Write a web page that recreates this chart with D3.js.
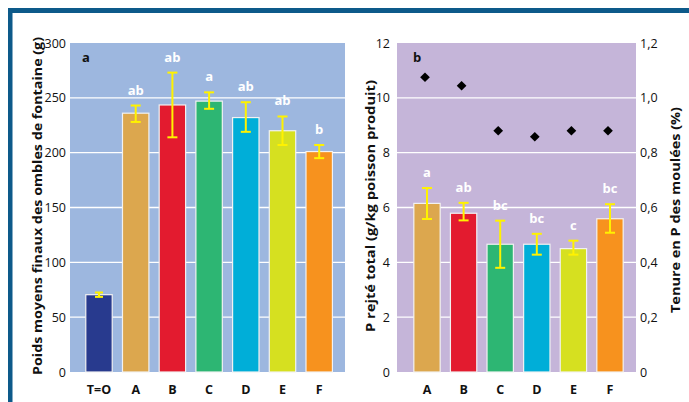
<!DOCTYPE html>
<html><head><meta charset="utf-8">
<script src="https://cdn.jsdelivr.net/npm/d3@7"></script>
<style>body{margin:0;background:#fff}svg{display:block}text{font-family:"Open Sans","Liberation Sans",sans-serif}</style>
</head><body><svg id="c" width="689" height="402"></svg>
<script>
// ---- Data ----
const catsA = ["T=O","A","B","C","D","E","F"];
const weightA = [70.5, 236, 243.5, 247, 232, 220, 201];
const weightLo = [68.5, 228, 214, 240, 219, 207, 195];
const weightHi = [72.5, 243, 273, 255, 246, 233, 207];
const lettersA = ["", "ab", "ab", "a", "ab", "ab", "b"];
const ticksA = [0, 50, 100, 150, 200, 250, 300];

const catsB = ["A","B","C","D","E","F"];
const pRejet = [6.15, 5.79, 4.66, 4.66, 4.5, 5.59];
const pRejetLo = [5.58, 5.53, 3.8, 4.28, 4.28, 5.08];
const pRejetHi = [6.71, 6.17, 5.52, 5.04, 4.79, 6.12];
const lettersB = ["a", "ab", "bc", "bc", "c", "bc"];
const pFeed = [1.075, 1.044, 0.88, 0.858, 0.88, 0.88];
const ticksBL = [0, 2, 4, 6, 8, 10, 12];
const ticksBR = [0, 0.2, 0.4, 0.6, 0.8, 1.0, 1.2];

const colors = {"T=O":"#283a8e","A":"#dca74e","B":"#e31b2f","C":"#2db673","D":"#00aed8","E":"#d6e020","F":"#f7921e"};

const svg = d3.select("#c");
// frame
svg.append("rect").attr("x",8).attr("y",8).attr("width",681).attr("height",5).attr("fill","#0d5a8a");
svg.append("rect").attr("x",8).attr("y",8).attr("width",4.5).attr("height",394).attr("fill","#0d5a8a");

const plotTop = 43, plotBottom = 372;
const fmtComma = d => d3.format(".1f")(d).replace(".", ",");

function panel(opt){
  const g = svg.append("g");
  g.append("rect").attr("x",opt.x0).attr("y",plotTop).attr("width",opt.x1-opt.x0).attr("height",plotBottom-plotTop).attr("fill",opt.bg);
  const y = d3.scaleLinear().domain([0, opt.max]).range([plotBottom, plotTop]);
  const x = d3.scaleBand().domain(opt.cats).range([opt.c0 - opt.step/2, opt.c0 - opt.step/2 + opt.step*opt.cats.length]).paddingInner(0.28).paddingOuter(0.14);
  // grid
  g.selectAll("line.grid").data(opt.ticks.slice(1,-1)).join("line")
    .attr("x1",opt.x0).attr("x2",opt.x1).attr("y1",d=>y(d)).attr("y2",d=>y(d))
    .attr("stroke","#fff").attr("stroke-width",1.3);
  // left axis
  const ax = g.append("g").attr("transform",`translate(${opt.x0},0)`)
    .call(d3.axisLeft(y).tickValues(opt.ticks).tickSize(0).tickPadding(opt.pad).tickFormat(opt.fmt||d3.format("d")));
  ax.select(".domain").remove();
  ax.selectAll("text").attr("font-size",12.5).attr("fill","#111");
  // bars
  g.selectAll("rect.bar").data(opt.vals).join("rect")
    .attr("x",(d,i)=>x(opt.cats[i])).attr("width",x.bandwidth())
    .attr("y",d=>y(d)).attr("height",d=>plotBottom-y(d))
    .attr("fill",(d,i)=>colors[opt.cats[i]]).attr("stroke","#f2f2f2").attr("stroke-width",1.2);
  // error bars
  opt.vals.forEach((d,i)=>{
    const cx = x(opt.cats[i]) + x.bandwidth()/2;
    const cw = i===0 && opt.cats[0]==="T=O" ? 4 : 5;
    g.append("line").attr("x1",cx).attr("x2",cx).attr("y1",y(opt.lo[i])).attr("y2",y(opt.hi[i])).attr("stroke","#fff200").attr("stroke-width",2);
    [opt.lo[i],opt.hi[i]].forEach(v=>g.append("line").attr("x1",cx-cw).attr("x2",cx+cw).attr("y1",y(v)).attr("y2",y(v)).attr("stroke","#fff200").attr("stroke-width",2));
    if(opt.letters[i]) g.append("text").attr("x",cx).attr("y",y(opt.hi[i]) - 11)
      .attr("text-anchor","middle").attr("font-size",13).attr("font-weight","bold").attr("fill","#fff").text(opt.letters[i]);
  });
  // x labels
  opt.cats.forEach(c=>g.append("text").attr("x",x(c)+x.bandwidth()/2).attr("y",394).attr("text-anchor","middle")
    .attr("font-size",12.5).attr("font-weight","bold").attr("fill","#111").text(c));
  // panel letter
  g.append("text").attr("x",opt.labX).attr("y",62).attr("font-size",13).attr("font-weight","bold").attr("fill","#111").text(opt.label);
  return {g,x,y};
}

const pa = panel({x0:70,x1:345,bg:"#9db7df",cats:catsA,vals:weightA,lo:weightLo,hi:weightHi,letters:lettersA,
  max:300,ticks:ticksA,c0:99,step:36.7,pad:4,labX:82,label:"a"});
const pb = panel({x0:397,x1:636,bg:"#c5b5d9",cats:catsB,vals:pRejet,lo:pRejetLo,hi:pRejetHi,letters:lettersB,
  max:12,ticks:ticksBL,c0:427,step:36.6,pad:7,labX:413,label:"b",fmt:d3.format("d")});

// right axis
const yR = d3.scaleLinear().domain([0,1.2]).range([plotBottom, plotTop]);
const axR = svg.append("g").attr("transform","translate(636,0)")
  .call(d3.axisRight(yR).tickValues(ticksBR).tickSize(0).tickPadding(4).tickFormat(d=> d===0 ? "0" : fmtComma(d)));
axR.select(".domain").remove();
axR.selectAll("text").attr("font-size",12.5).attr("fill","#111");

// diamonds
svg.append("g").selectAll("path").data(pFeed).join("path")
  .attr("transform",(d,i)=>`translate(${pb.x(catsB[i])+pb.x.bandwidth()/2-2},${yR(d)})`)
  .attr("d",d3.symbol(d3.symbolDiamond2 || d3.symbolDiamond).size(60)).attr("fill","#000");

// axis titles
function vtitle(x, cy, len, txt){
  svg.append("text").attr("transform",`translate(${x},${cy}) rotate(-90)`).attr("text-anchor","middle")
    .attr("dominant-baseline","central").attr("font-size",13).attr("font-weight","bold").attr("fill","#111")
    .attr("textLength",len).attr("lengthAdjust","spacingAndGlyphs").text(txt);
}
vtitle(37, 206, 338, "Poids moyens finaux des ombles de fontaine (g)");
vtitle(370, 206, 252, "P rejté total (g/kg poisson produit)");
vtitle(675, 210, 206, "Tenure en P des moulées (%)");
</script></body></html>
